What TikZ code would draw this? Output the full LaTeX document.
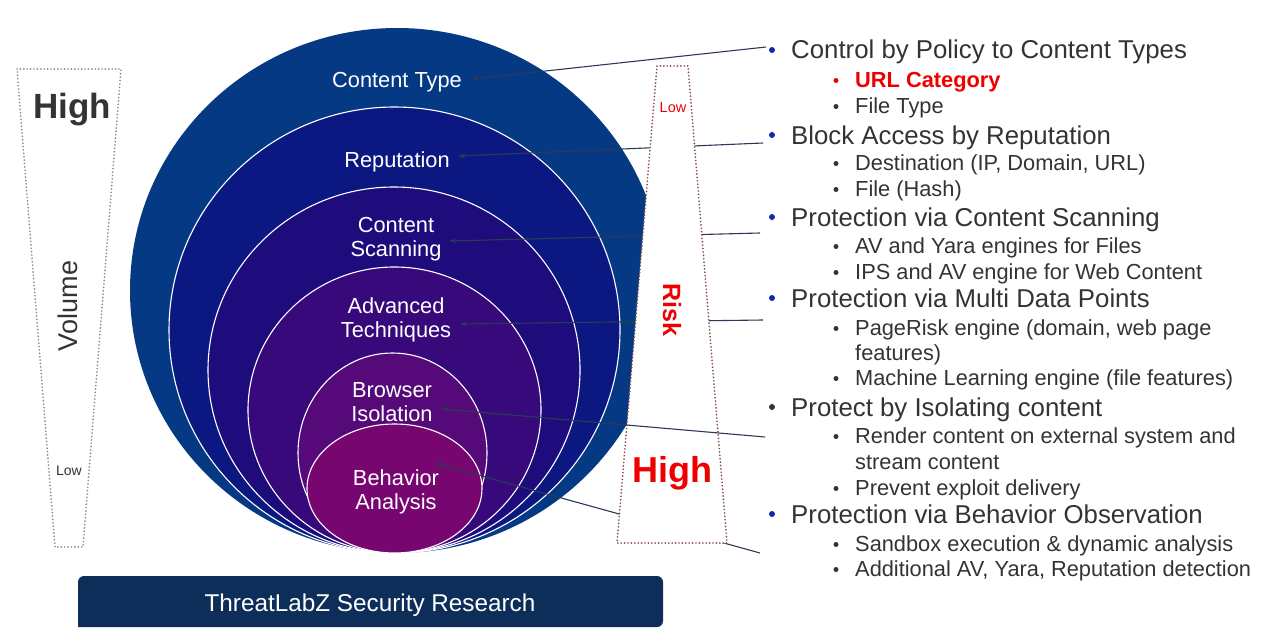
\documentclass[tikz,border=0pt]{standalone}
\usepackage{fontspec}
\setmainfont{Liberation Sans}
\usetikzlibrary{arrows.meta}

% ring colours, outermost to innermost
\definecolor{ringA}{HTML}{053984}
\definecolor{ringB}{HTML}{0C1882}
\definecolor{ringC}{HTML}{1E0B7C}
\definecolor{ringD}{HTML}{38097A}
\definecolor{ringE}{HTML}{560A7A}
\definecolor{ringF}{HTML}{780670}
\definecolor{txtgray}{HTML}{333333}
\definecolor{bulblue}{HTML}{1428A8}
\definecolor{linec}{HTML}{2B3A55}
\definecolor{banner}{HTML}{0E2E5A}
\definecolor{volgray}{HTML}{8C8C8C}
\definecolor{riskdot}{HTML}{845050}
\definecolor{hired}{HTML}{EE0000}

\begin{document}
\begin{tikzpicture}[x=1pt,y=-1pt,
  ringedge/.style={draw=white, line width=1.1pt},
  ringlab/.style={text=white, font=\fontsize{21.8}{24}\selectfont, align=center, inner sep=0pt},
  mainitem/.style={anchor=base west, text=txtgray, font=\fontsize{25.8}{30}\selectfont, inner sep=0pt},
  subitem/.style={anchor=base west, text=txtgray, font=\fontsize{21.8}{25}\selectfont, inner sep=0pt},
  mbul/.style={circle, fill=bulblue, inner sep=0pt, minimum size=6pt},
  sbul/.style={circle, fill=txtgray, inner sep=0pt, minimum size=5pt},
  conn/.style={draw=linec, line width=1.1pt, -{Stealth[length=7pt,width=5pt]}},
  dotline/.style={line width=1.9pt, line cap=round, dash pattern=on 0pt off 3.4pt},
]
\useasboundingbox (0,0) rectangle (1271,634);

% nested rings, all touching at the bottom
\fill[ringA] (397,290.5) ellipse [x radius=267pt, y radius=262.5pt];
\filldraw[fill=ringB, ringedge] (394.5,330) ellipse [x radius=225.5pt, y radius=223pt];
\filldraw[fill=ringC, ringedge] (394,370) ellipse [x radius=186pt, y radius=183pt];
\filldraw[fill=ringD, ringedge] (394.5,410) ellipse [x radius=146.5pt, y radius=143pt];
\filldraw[fill=ringE, ringedge] (392.5,453) ellipse [x radius=94.5pt, y radius=100pt];
\filldraw[fill=ringF, ringedge] (394.5,488.5) ellipse [x radius=87.5pt, y radius=64.5pt];

% ring labels
\node[ringlab, anchor=base] (ctype) at (397,88) {Content Type};
\node[ringlab, anchor=base] (reput) at (397,167) {Reputation};
\node[ringlab] (cscan) at (396,239.5) {Content\\Scanning};
\node[ringlab] (advt) at (396,319.5) {Advanced\\Techniques};
\node[ringlab] (brow) at (392,402) {Browser\\Isolation};
\node[ringlab] (behav) at (396,492) {Behavior\\Analysis};

% connector ends
\coordinate (e1) at (766,47);   \coordinate (t1) at (472,79);
\coordinate (e2) at (763,143);  \coordinate (t2) at (458,156);
\coordinate (e3) at (760,233);  \coordinate (t3) at (449,241);
\coordinate (e4) at (763,320);  \coordinate (t4) at (460,324);
\coordinate (e5) at (765,437);  \coordinate (t5) at (442,409);
\coordinate (e6) at (760,553);  \coordinate (t6) at (435,463);

% connectors passing behind the risk gauge
\draw[conn] (e1) -- (t1);
\draw[conn] (e2) -- (t2);
\draw[conn] (e3) -- (t3);
\draw[conn] (e4) -- (t4);
\draw[conn] (e6) -- (t6);

% risk gauge
\filldraw[fill=white, draw=riskdot, dotline] (657,66) -- (688,66) -- (727,543) -- (617,543) -- cycle;
\node[text=hired, font=\fontsize{14.5}{16}\selectfont, inner sep=0pt] (risklow) at (673,108) {Low};
\node[text=hired, font=\bfseries\fontsize{25}{28}\selectfont, rotate=-90, inner sep=0pt] (risk) at (672,310) {Risk};
\node[text=hired, font=\bfseries\fontsize{36}{40}\selectfont, anchor=base, inner sep=0pt] (riskhigh) at (672,482) {High};

% connector drawn over the gauge
\draw[conn] (e5) -- (t5);

% volume gauge
\draw[draw=volgray, dotline] (17,69) -- (121,69) -- (83,547) -- (55,547) -- cycle;
\node[text=txtgray, font=\bfseries\fontsize{35}{40}\selectfont, anchor=base, inner sep=0pt] (volhigh) at (72,118) {High};
\node[text=txtgray, font=\fontsize{27}{30}\selectfont, rotate=90, inner sep=0pt] (vol) at (68,306) {Volume};
\node[text=txtgray, font=\fontsize{14}{16}\selectfont, inner sep=0pt] (vollow) at (69,471) {Low};

% list of protections
\node[mbul] (b1) at (772,50) {};
\node[mainitem] (m1) at (791,59) {Control by Policy to Content Types};
\node[sbul, fill=hired] (b1a) at (836,80.5) {};
\node[subitem, text=hired, font=\bfseries\fontsize{21.8}{25}\selectfont] (s1a) at (855,87) {URL Category};
\node[sbul] (b1b) at (836,106.5) {};
\node[subitem] (s1b) at (855,113) {File Type};

\node[mbul] (b2) at (772,135) {};
\node[mainitem] (m2) at (791,144) {Block Access by Reputation};
\node[sbul] (b2a) at (836,163.5) {};
\node[subitem] (s2a) at (855,170) {Destination (IP, Domain, URL)};
\node[sbul] (b2b) at (836,189.5) {};
\node[subitem] (s2b) at (855,196) {File (Hash)};

\node[mbul] (b3) at (772,217) {};
\node[mainitem] (m3) at (791,226) {Protection via Content Scanning};
\node[sbul] (b3a) at (836,246.5) {};
\node[subitem] (s3a) at (855,253) {AV and Yara engines for Files};
\node[sbul] (b3b) at (836,272.5) {};
\node[subitem] (s3b) at (855,279) {IPS and AV engine for Web Content};

\node[mbul] (b4) at (772,298) {};
\node[mainitem] (m4) at (791,307) {Protection via Multi Data Points};
\node[sbul] (b4a) at (836,328.5) {};
\node[subitem] (s4a) at (855,335) {PageRisk engine (domain, web page};
\node[subitem] (s4a2) at (855,360) {features)};
\node[sbul] (b4b) at (836,378.5) {};
\node[subitem] (s4b) at (855,385) {Machine Learning engine (file features)};

\node[mbul, fill=txtgray] (b5) at (772,407) {};
\node[mainitem] (m5) at (791,416) {Protect by Isolating content};
\node[sbul] (b5a) at (836,436.5) {};
\node[subitem] (s5a) at (855,443) {Render content on external system and};
\node[subitem] (s5a2) at (855,469) {stream content};
\node[sbul] (b5b) at (836,488.5) {};
\node[subitem] (s5b) at (855,495) {Prevent exploit delivery};

\node[mbul] (b6) at (772,514) {};
\node[mainitem] (m6) at (791,523) {Protection via Behavior Observation};
\node[sbul] (b6a) at (836,544.5) {};
\node[subitem] (s6a) at (855,551) {Sandbox execution \& dynamic analysis};
\node[sbul] (b6b) at (836,569.5) {};
\node[subitem] (s6b) at (855,576) {Additional AV, Yara, Reputation detection};

% research banner
\fill[banner, rounded corners=6pt] (78,627) -- (78,576) -- (663,576) -- (663,627) [sharp corners] -- cycle;
\node[text=white, font=\fontsize{24.3}{26}\selectfont, anchor=base, inner sep=0pt] (bannertxt) at (370,611) {ThreatLabZ Security Research};
\end{tikzpicture}
\end{document}
